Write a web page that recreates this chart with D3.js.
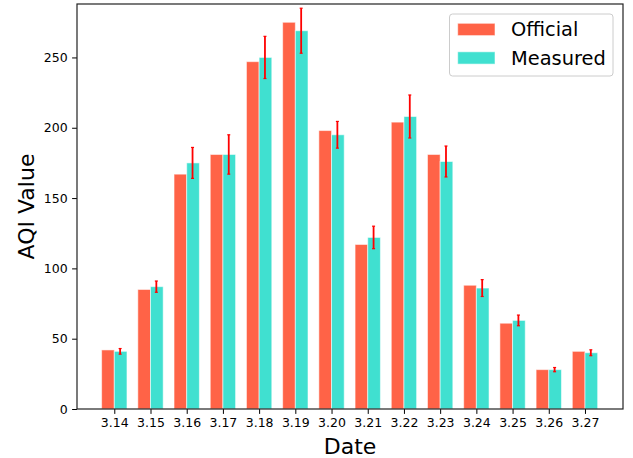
<!DOCTYPE html>
<html>
<head>
<meta charset="utf-8">
<script src="https://cdn.jsdelivr.net/npm/d3@7"></script>
<style>
  html, body { margin: 0; padding: 0; background: #fff; }
  svg { display: block; font-family: "DejaVu Sans", sans-serif; }
</style>
</head>
<body>
<svg id="chart" width="633" height="458"></svg>
<script>
// Daily AQI, official readings vs. our own measurements (with error)
const dates = ["3.14", "3.15", "3.16", "3.17", "3.18", "3.19", "3.20",
               "3.21", "3.22", "3.23", "3.24", "3.25", "3.26", "3.27"];
const official = [42, 85, 167, 181, 247, 275, 198, 117, 204, 181, 88, 61, 28, 41];
const measured = [41, 87, 175, 181, 250, 269, 195, 122, 208, 176, 86, 63, 28, 40];
const measuredErr = [2, 4, 11, 14, 15, 16, 9.5, 8, 15.3, 11, 6, 3.8, 1.5, 2.1];
const yTicks = [0, 50, 100, 150, 200, 250];
const seriesNames = ["Official", "Measured"];
const seriesColors = ["#FF6347", "#40E0D0"];

const W = 633, H = 458;
const margin = { top: 4, right: 10, bottom: 49, left: 77 };
const svg = d3.select("#chart");

const x = d3.scaleLinear().domain([-1.03, 14.05]).range([margin.left, W - margin.right]);
const y = d3.scaleLinear().domain([0, 288]).range([H - margin.bottom, margin.top]);
const barW = 0.35;

const plot = svg.append("g");

// bars: official to the left of each tick, measured to the right
const series = [official, measured];
series.forEach((vals, s) => {
  plot.selectAll(null).data(vals).enter().append("rect")
    .attr("x", (d, i) => s === 0 ? x(i - barW) : x(i))
    .attr("width", x(barW) - x(0))
    .attr("y", d => y(d))
    .attr("height", d => y(0) - y(d))
    .attr("fill", seriesColors[s])
    .attr("stroke", "#fff")
    .attr("stroke-opacity", 0.55)
    .attr("stroke-width", 1);
});

// error bars on measured values
const eb = plot.append("g").attr("stroke", "#ff0000").attr("stroke-width", 1.8);
measured.forEach((v, i) => {
  const cx = x(i + barW / 2) - 0.5;
  const e = measuredErr[i];
  eb.append("line").attr("x1", cx).attr("x2", cx).attr("y1", y(v - e)).attr("y2", y(v + e));
  [v - e, v + e].forEach(t => {
    eb.append("line").attr("x1", cx - 1.5).attr("x2", cx + 1.5).attr("y1", y(t)).attr("y2", y(t))
      .attr("stroke-width", 1.2);
  });
});

// axes
const xAxis = d3.axisBottom(x)
  .tickValues(d3.range(dates.length))
  .tickFormat(i => dates[i])
  .tickSize(4.9).tickPadding(4.5);
const yAxis = d3.axisLeft(y)
  .tickValues(yTicks)
  .tickSize(4.9).tickPadding(4.5);

const gx = svg.append("g").attr("transform", `translate(0,${H - margin.bottom})`).call(xAxis);
const gy = svg.append("g").attr("transform", `translate(${margin.left},0)`).call(yAxis);
[gx, gy].forEach(g => {
  g.select(".domain").remove();
  g.selectAll("text").attr("font-size", 12.5).attr("fill", "#000")
    .attr("font-family", "DejaVu Sans, sans-serif");
  g.selectAll(".tick line").attr("stroke", "#000").attr("stroke-width", 1);
});

// frame
svg.append("rect")
  .attr("x", margin.left).attr("y", margin.top)
  .attr("width", W - margin.left - margin.right)
  .attr("height", H - margin.top - margin.bottom)
  .attr("fill", "none").attr("stroke", "#222").attr("stroke-width", 1.2);

// axis titles
svg.append("text")
  .attr("x", (margin.left + W - margin.right) / 2).attr("y", 454)
  .attr("text-anchor", "middle").attr("font-size", 22).text("Date");
svg.append("text")
  .attr("transform", `translate(33.5,${(margin.top + H - margin.bottom) / 2}) rotate(-90)`)
  .attr("text-anchor", "middle").attr("font-size", 22).text("AQI Value");

// legend
const lg = svg.append("g");
lg.append("rect")
  .attr("x", 449.5).attr("y", 14).attr("width", 163.5).attr("height", 62)
  .attr("rx", 3).attr("fill", "#fff").attr("fill-opacity", 0.8)
  .attr("stroke", "#ccc").attr("stroke-width", 1);
seriesNames.forEach((name, k) => {
  const ry = 23.3 + k * 28.5;
  lg.append("rect").attr("x", 457.7).attr("y", ry).attr("width", 37.3).attr("height", 12.3)
    .attr("fill", seriesColors[k]).attr("stroke", "#fff").attr("stroke-opacity", 0.55);
  lg.append("text").attr("x", 511).attr("y", ry + 12.8)
    .attr("font-size", 19.4).attr("fill", "#000").text(name);
});
</script>
</body>
</html>
